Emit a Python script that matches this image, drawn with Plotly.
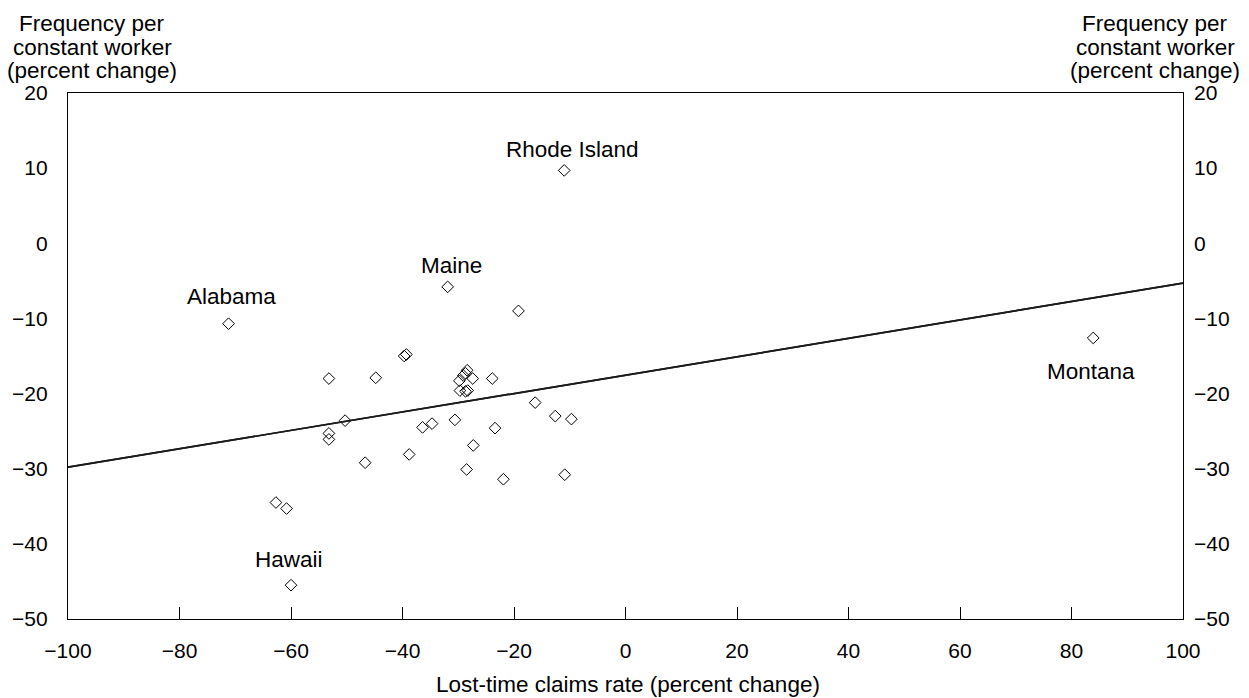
import plotly.graph_objects as go

# Lost-time claims rate (percent change) vs frequency per constant worker (percent change)
claims_x = [-71.2, -31.9, -11.0, 83.9, -60.0, -19.2, -39.7, -39.3, -53.2, -44.8,
            -28.4, -28.7, -29.1, -27.4, -29.8, -29.7, -28.7, -28.3, -23.9, -16.2,
            -12.6, -9.7, -50.3, -53.2, -53.2, -36.4, -34.7, -30.6, -23.4, -27.3,
            -46.7, -38.8, -28.5, -21.9, -10.9, -62.7, -60.8]
freq_y = [-10.7, -5.8, 9.7, -12.6, -45.5, -9.0, -15.0, -14.8, -18.0, -17.9,
          -16.9, -17.3, -17.6, -18.0, -18.3, -19.6, -19.7, -19.6, -18.0, -21.2,
          -23.0, -23.4, -23.6, -25.3, -26.1, -24.5, -24.0, -23.5, -24.6, -26.9,
          -29.2, -28.1, -30.1, -31.4, -30.8, -34.5, -35.3]

# trend line endpoints
fit_x = [-100, 100]
fit_y = [-29.8, -5.3]

# labelled states: name, x, y, xshift, yshift (pixel offsets of the label)
label_names = ["Rhode Island", "Maine", "Alabama", "Hawaii", "Montana"]
label_x = [-11.0, -31.9, -71.2, -60.0, 83.9]
label_y = [9.7, -5.8, -10.7, -45.5, -12.6]
label_dx = [8, 4, 3, -2, -2]
label_dy = [21, 21, 27, 26, -34]

x_ticks = list(range(-100, 101, 20))
y_ticks = list(range(-50, 21, 10))

FONT = "Liberation Sans, Arial, sans-serif"

fig = go.Figure()
fig.add_trace(go.Scatter(x=fit_x, y=fit_y, mode="lines",
                         line=dict(color="#1a1a1a", width=1.7),
                         showlegend=False, hoverinfo="skip"))
fig.add_trace(go.Scatter(x=fit_x, y=fit_y, mode="lines", yaxis="y2",
                         line=dict(color="#1a1a1a", width=1.7),
                         showlegend=False, hoverinfo="skip"))
fig.add_trace(go.Scatter(x=claims_x, y=freq_y, mode="markers",
                         marker=dict(symbol="diamond-open", size=9,
                                     color="black", line=dict(width=1, color="black")),
                         showlegend=False))

for n, x, y, dx, dy in zip(label_names, label_x, label_y, label_dx, label_dy):
    fig.add_annotation(x=x, y=y, text=n, showarrow=False, xshift=dx, yshift=dy,
                       xanchor="center", yanchor="middle",
                       font=dict(family=FONT, size=22.5, color="black"))

title_lines = ["Frequency per", "constant worker", "(percent change)"]
for i, t in enumerate(title_lines):
    for xc in (92, 1155):
        fig.add_annotation(x=xc, y=23 + 23.5 * i, xref="paper", yref="paper",
                           text=t, showarrow=False, xanchor="center", yanchor="middle",
                           font=dict(family=FONT, size=22.5, color="black"))

fig.add_annotation(x=628, y=685.5, xref="paper", yref="paper",
                   text="Lost-time claims rate (percent change)", showarrow=False,
                   xanchor="center", yanchor="middle",
                   font=dict(family=FONT, size=22.5, color="black"))

# convert pixel-placed annotations (paper refs given in pixels) to paper fractions
L, R, T, B = 68, 66, 92.5, 78.5
W, H = 1249, 698
pw, ph = W - L - R, H - T - B
for a in fig.layout.annotations:
    if a.xref == "paper":
        a.x = (a.x - L) / pw
        a.y = 1 - (a.y - T) / ph

fig.update_layout(
    width=W, height=H,
    margin=dict(l=L, r=R, t=T, b=B, autoexpand=False),
    paper_bgcolor="white", plot_bgcolor="white",
    font=dict(family=FONT, size=21, color="black"),
    xaxis=dict(range=[-100, 100], tickvals=x_ticks, ticks="inside", ticklen=12,
               tickwidth=1, tickcolor="black", showline=True, linecolor="black",
               linewidth=1.2, mirror=True, showgrid=False, zeroline=False,
               ticklabelstandoff=13, tickfont=dict(size=21)),
    yaxis=dict(range=[-50, 20], tickvals=y_ticks, ticks="", showline=True,
               linecolor="black", linewidth=1.2, mirror=True, showgrid=False,
               zeroline=False, ticklabelstandoff=15, tickfont=dict(size=21)),
    yaxis2=dict(range=[-50, 20], tickvals=y_ticks, ticks="", overlaying="y",
                side="right", showline=False, showgrid=False, zeroline=False,
                ticklabelstandoff=10, tickfont=dict(size=21)),
)

fig.write_html("out.html")
